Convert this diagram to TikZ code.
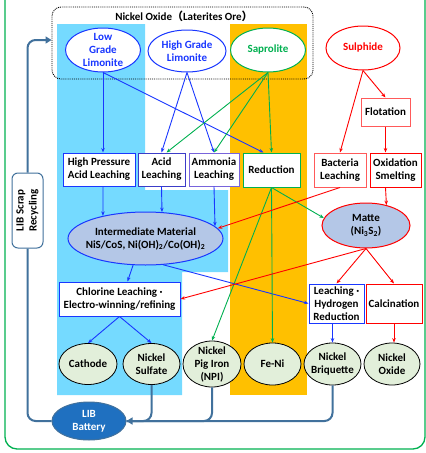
\documentclass[tikz,border=0pt]{standalone}
\usepackage{fontspec}
\setmainfont{Carlito}
\newfontfamily\cjk{Noto Sans CJK SC}
\usetikzlibrary{shapes.geometric,arrows.meta}
\definecolor{skyfill}{RGB}{117,218,255}
\definecolor{goldfill}{RGB}{255,192,0}
\definecolor{flowblue}{RGB}{25,55,255}
\definecolor{flowgreen}{RGB}{0,176,80}
\definecolor{flowred}{RGB}{255,0,0}
\definecolor{softred}{RGB}{255,90,90}
\definecolor{acidblue}{RGB}{60,60,200}
\definecolor{ammblue}{RGB}{120,100,220}
\definecolor{mattefill}{RGB}{180,199,231}
\definecolor{prodfill}{RGB}{226,239,218}
\definecolor{libblue}{RGB}{31,112,192}
\definecolor{steel}{RGB}{65,113,156}
\begin{document}
\begin{tikzpicture}[x=1pt,y=-1pt,
  font=\bfseries\fontsize{11}{13}\selectfont,
  >={Stealth[length=4.5pt,width=3.5pt]},
  box/.style={draw=#1,fill=white,line width=1pt,align=center,inner sep=1pt},
  ore/.style={ellipse,draw=#1,text=#1,fill=white,line width=1pt,align=center,
    inner sep=-10pt,minimum width=75pt,minimum height=44pt},
  mid/.style={ellipse,draw=#1,fill=mattefill,line width=1pt,align=center,inner sep=-10pt},
  product/.style={ellipse,draw=black,fill=prodfill,line width=0.8pt,align=center,
    inner sep=-10pt,minimum width=57pt,minimum height=41pt},
  flow/.style={->,draw=#1,line width=0.9pt},
  loop/.style={draw=steel,line width=2pt,rounded corners=8pt}]
\useasboundingbox (0,0) rectangle (426,453);

% backgrounds
\fill[skyfill] (57,24) -- (145,24) -- (145,190) -- (228,190) -- (228,272)
  -- (182,272) -- (182,395) -- (57,395) -- cycle;
\fill[goldfill] (230,24) rectangle (307,395);
\draw[flowgreen,line width=1.3pt,rounded corners=12pt] (5,-20) -- (5,449) -- (425,449) -- (425,-20);

% ores
\node[draw,densely dotted,line width=0.9pt,rounded corners=9pt,minimum width=261pt,minimum height=72pt] (ore) at (182.5,43) {};
\node (orelabel) at (184,16) {Nickel Oxide{\cjk （}Laterites Ore{\cjk ）}};
\node[ore=flowblue] (low) at (103,50) {Low\\Grade\\Limonite};
\node[ore=flowblue,minimum width=78pt,minimum height=42pt] (high) at (187,51) {High Grade\\Limonite};
\node[ore=flowgreen] (sap) at (268,50) {Saprolite};
\node[ore=flowred,minimum width=74pt] (sul) at (363,48) {Sulphide};

% processes
\node[box=flowblue,minimum width=72pt,minimum height=33pt] (hpal) at (99,169.5) {High Pressure\\Acid Leaching};
\node[box=acidblue,minimum width=47pt,minimum height=33pt] (acid) at (161.5,169.5) {Acid\\Leaching};
\node[box=ammblue,minimum width=50pt,minimum height=33pt] (amm) at (214,169.5) {Ammonia\\Leaching};
\node[box=flowgreen,minimum width=57pt,minimum height=34pt] (red) at (271.5,170) {Reduction};
\node[box=softred,minimum width=52pt,minimum height=34pt] (bac) at (340,170) {Bacteria\\Leaching};
\node[box=flowred,minimum width=51pt,minimum height=34pt] (oxs) at (395.5,170) {Oxidation\\Smelting};
\node[box=softred,minimum width=49pt,minimum height=28pt] (flo) at (385.5,112) {Flotation};
\node[mid=flowblue,minimum width=155pt,minimum height=53pt] (inter) at (145.5,238.5)
  {Intermediate Material\\NiS/CoS, Ni(OH)\textsubscript{2}/Co(OH)\textsubscript{2}};
\node[mid=flowred,minimum width=88pt,minimum height=45pt] (matte) at (366,225.5) {Matte\\(Ni\textsubscript{3}S\textsubscript{2})};
\node[box=flowblue,minimum width=121pt,minimum height=34pt] (chl) at (119.5,299) {Chlorine Leaching ·\\Electro-winning/refining};
\node[box=flowblue,minimum width=55pt,minimum height=39pt] (lhr) at (336.5,303.5) {Leaching ·\\Hydrogen\\Reduction};
\node[box=flowred,minimum width=56pt,minimum height=39pt] (cal) at (394,303.5) {Calcination};

% products
\node[product,minimum width=58pt] (cath) at (88,364) {Cathode};
\node[product] (nsul) at (151.5,364) {Nickel\\Sulfate};
\node[product,minimum width=58pt,minimum height=46pt] (npi) at (212,364) {Nickel\\Pig Iron\\(NPI)};
\node[product,minimum height=42pt] (feni) at (272.5,364) {Fe-Ni};
\node[product,minimum height=42pt] (nbri) at (332.5,364) {Nickel\\Briquette};
\node[product,minimum width=56pt,minimum height=42pt] (nox) at (392,364) {Nickel\\Oxide};

% recycling
\node[ellipse,fill=libblue,draw=steel,line width=1pt,text=white,align=center,inner sep=-10pt,
  minimum width=74pt,minimum height=38pt] (lib) at (89,421) {LIB\\Battery};
\node[box=steel,rounded corners=6pt,rotate=90,minimum width=75pt,minimum height=31pt] (scrap) at (27.5,210.5) {LIB Scrap\\Recycling};

\draw[loop] (lib.west) -| (scrap.west);
\draw[loop,-{Triangle[length=6pt,width=7pt]}] (scrap.east) |- ([yshift=3pt]ore.west);
\draw[loop,-{Triangle[length=6pt,width=7pt]}] (nbri.south) |- (lib.east);
\draw[loop] (npi.south) |- (lib.east);
\draw[loop] (nsul.south) |- (lib.east);

% blue routes
\draw[flow=flowblue] (low.south) -- (low.south |- hpal.north);
\draw[flow=flowblue] (low.south) -- ([xshift=-8pt]red.north);
\draw[flow=flowblue] (high.south) -- (acid.north);
\draw[flow=flowblue] (high.south) -- (amm.north);
\draw[flow=flowblue] (low.south |- hpal.south) -- (inter.152);
\draw[flow=flowblue] (acid.south) -- (inter.58);
\draw[flow=flowblue] (amm.south) -- (inter.10);
\draw[flow=flowblue] (inter.245) -- ([xshift=8pt]chl.north);
\draw[flow=flowblue] (inter.304) -- (lhr.west);
\draw[flow=flowblue] (chl.south) -- (cath.north);
\draw[flow=flowblue] (chl.south) -- (nsul.north);
\draw[flow=flowblue] (nbri.north |- lhr.south) -- (nbri.north);

% green routes
\draw[flow=flowgreen] (sap.south) -- ([xshift=5pt]acid.north);
\draw[flow=flowgreen] (sap.south) -- (amm.north);
\draw[flow=flowgreen] (sap.south) -- (red.north);
\draw[flow=flowgreen] (red.south) -- (matte.170);
\draw[flow=flowgreen] (red.south) -- (npi.north);
\draw[flow=flowgreen] (red.south) -- (feni.north);

% red routes
\draw[flow=flowred] (sul.south) -- (bac.north);
\draw[flow=flowred] (sul.south) -- (flo.north);
\draw[flow=flowred] (flo.south) -- (flo.south |- oxs.north);
\draw[flow=flowred] (flo.south |- oxs.south) -- (matte.45);
\draw[flow=flowred] (bac.south) -- (inter.8);
\draw[flow=flowred] (matte.south) -- (chl.east);
\draw[flow=flowred] (matte.south) -- (lhr.north);
\draw[flow=flowred] (matte.south) -- (cal.north);
\draw[flow=flowred] (cal.south) -- (cal.south |- nox.north);
\end{tikzpicture}
\end{document}
